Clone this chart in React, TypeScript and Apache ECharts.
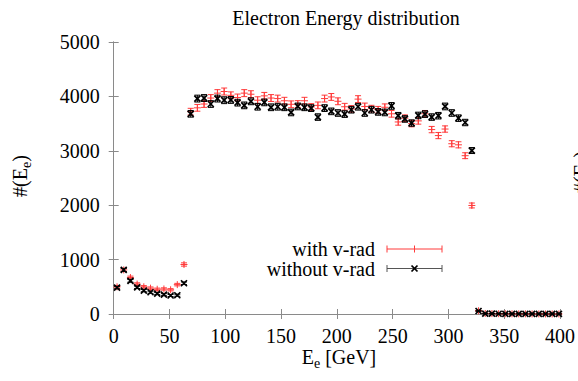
import React, { useEffect, useRef } from "react";
import * as echarts from "echarts";

// Bin centres (GeV)
const energies = [
  3, 9, 15, 21, 27, 33, 39, 45, 51, 57, 63, 69, 75, 81, 87, 93, 99, 105, 111, 117,
  123, 129, 135, 141, 147, 153, 159, 165, 171, 177, 183, 189, 195, 201, 207, 213,
  219, 225, 231, 237, 243, 249, 255, 261, 267, 273, 279, 285, 291, 297, 303, 309,
  315, 321, 327, 333, 339, 345, 351, 357, 363, 369, 375, 381, 387, 393, 399,
];

// with v-rad (red)
const withVrad = [
  500, 810, 670, 550, 500, 475, 455, 460, 445, 540, 910,
  3720, 3790, 3860, 3970, 4060, 4090, 4020, 3980, 4060, 4040, 3930, 4010, 3970, 3960,
  3920, 3855, 3860, 3920, 3805, 3835, 3960, 3990, 3910, 3810, 3770, 3950, 3815, 3775,
  3755, 3800, 3680, 3530, 3600, 3500, 3550, 3680, 3390, 3280, 3400, 3130, 3110, 2910,
  1995, 60,
  10, 8, 6, 5, 4, 3, 3, 2, 2, 1, 1, 1,
];
const withVradErr = [
  22, 28, 26, 23, 22, 22, 21, 21, 21, 23, 30,
  61, 62, 62, 63, 64, 64, 63, 63, 64, 64, 63, 63, 63, 63,
  63, 62, 62, 63, 62, 62, 63, 63, 63, 62, 61, 63, 62, 61,
  61, 62, 61, 59, 60, 59, 60, 61, 58, 57, 58, 56, 56, 54,
  45, 8,
  3, 3, 2, 2, 2, 2, 2, 1, 1, 1, 1, 1,
];

// without v-rad (black)
const withoutVrad = [
  485, 810, 610, 490, 430, 400, 375, 355, 340, 345, 565,
  3680, 3960, 3970, 3860, 3960, 3930, 3935, 3885, 3835, 3910, 3810, 3890, 3800, 3810,
  3800, 3705, 3815, 3800, 3785, 3620, 3785, 3725, 3695, 3675, 3755, 3810, 3695, 3755,
  3715, 3705, 3825, 3645, 3585, 3510, 3650, 3675, 3620, 3645, 3815, 3695, 3600, 3520,
  3005, 55,
  8, 6, 5, 4, 3, 3, 2, 2, 1, 1, 1, 1,
];
const withoutVradErr = [
  22, 28, 25, 22, 21, 20, 19, 19, 18, 19, 24,
  61, 63, 63, 62, 63, 63, 63, 62, 62, 63, 62, 62, 62, 62,
  62, 61, 62, 62, 62, 60, 62, 61, 61, 61, 61, 62, 61, 61,
  61, 61, 62, 60, 60, 59, 60, 61, 60, 60, 62, 61, 60, 59,
  55, 7,
  3, 2, 2, 2, 2, 2, 1, 1, 1, 1, 1, 1,
];

const xTicks = [0, 50, 100, 150, 200, 250, 300, 350, 400];
const yTicks = [0, 1000, 2000, 3000, 4000, 5000];

const FONT = "Liberation Serif, Times New Roman, serif";
const RED = "#ff3a3a";
const BLACK = "#000000";
const AXIS = "#8a8a8a";

function fontStr(size: number) {
  return `normal normal ${size}px ${FONT}`;
}

function measure(text: string, size: number): number {
  const c = document.createElement("canvas").getContext("2d");
  if (!c) return text.length * size * 0.5;
  c.font = `${size}px ${FONT}`;
  return c.measureText(text).width;
}

function subText(parts: { t: string; sub?: boolean }[], size: number, subSize: number) {
  const widths = parts.map((p) => measure(p.t, p.sub ? subSize : size));
  const total = widths.reduce((a, b) => a + b, 0);
  let x = -total / 2;
  const children: any[] = [];
  parts.forEach((p, i) => {
    children.push({
      type: "text",
      x,
      y: p.sub ? 6 : 0,
      style: {
        text: p.t,
        font: fontStr(p.sub ? subSize : size),
        fill: "#000",
        textAlign: "left",
        textVerticalAlign: "middle",
      },
    });
    x += widths[i];
  });
  return children;
}

function makeErrSeries(name: string, xs: number[], ys: number[], es: number[], color: string, marker: "plus" | "cross") {
  return {
    type: "custom",
    name,
    clip: false,
    data: xs.map((x, i) => [x, ys[i], es[i]]),
    encode: { x: 0, y: 1 },
    renderItem: (_params: any, api: any) => {
      const x = api.value(0);
      const y = api.value(1);
      const e = api.value(2);
      const p = api.coord([x, y]);
      const hi = api.coord([x, y + e]);
      const lo = api.coord([x, Math.max(0, y - e)]);
      const cw = 3;
      const st = { stroke: color, lineWidth: 1 };
      const children: any[] = [
        { type: "line", shape: { x1: p[0], y1: hi[1], x2: p[0], y2: lo[1] }, style: st },
        { type: "line", shape: { x1: p[0] - cw, y1: hi[1], x2: p[0] + cw, y2: hi[1] }, style: st },
        { type: "line", shape: { x1: p[0] - cw, y1: lo[1], x2: p[0] + cw, y2: lo[1] }, style: st },
      ];
      if (marker === "plus") {
        children.push(
          { type: "line", shape: { x1: p[0] - 3.5, y1: p[1], x2: p[0] + 3.5, y2: p[1] }, style: st },
          { type: "line", shape: { x1: p[0], y1: p[1] - 3.5, x2: p[0], y2: p[1] + 3.5 }, style: st }
        );
      } else {
        const s = 3;
        const sx = { stroke: color, lineWidth: 1.7 };
        children.push(
          { type: "line", shape: { x1: p[0] - s, y1: p[1] - s, x2: p[0] + s, y2: p[1] + s }, style: sx },
          { type: "line", shape: { x1: p[0] - s, y1: p[1] + s, x2: p[0] + s, y2: p[1] - s }, style: sx }
        );
      }
      return { type: "group", children };
    },
    z: marker === "cross" ? 3 : 2,
  };
}

function legendEntry(label: string, y: number, color: string, marker: "plus" | "cross") {
  const x1 = 387;
  const x2 = 442;
  const xm = (x1 + x2) / 2;
  const lineSt = marker === "cross" ? { stroke: "#555", lineWidth: 1 } : { stroke: color, lineWidth: 1 };
  const children: any[] = [
    {
      type: "text",
      x: 375,
      y,
      style: {
        text: label,
        font: fontStr(20),
        fill: "#000",
        textAlign: "right",
        textVerticalAlign: "middle",
      },
    },
    { type: "line", shape: { x1, y1: y, x2, y2: y }, style: lineSt },
    { type: "line", shape: { x1, y1: y - 3.5, x2: x1, y2: y + 3.5 }, style: lineSt },
    { type: "line", shape: { x1: x2, y1: y - 3.5, x2, y2: y + 3.5 }, style: lineSt },
  ];
  if (marker === "plus") {
    children.push({ type: "line", shape: { x1: xm, y1: y - 3.5, x2: xm, y2: y + 3.5 }, style: lineSt });
  } else {
    const s = 3;
    const sx = { stroke: color, lineWidth: 1.7 };
    children.push(
      { type: "line", shape: { x1: xm - s, y1: y - s, x2: xm + s, y2: y + s }, style: sx },
      { type: "line", shape: { x1: xm - s, y1: y + s, x2: xm + s, y2: y - s }, style: sx }
    );
  }
  return { type: "group", children };
}

export default function App() {
  const ref = useRef<HTMLDivElement>(null);
  useEffect(() => {
    if (!ref.current) return;
    const chart = echarts.init(ref.current, undefined, { renderer: "svg" });
    const axisCommon = {
      type: "value" as const,
      axisLine: { show: true, lineStyle: { color: AXIS, width: 1 } },
      axisTick: { show: true, inside: true, length: 5, lineStyle: { color: AXIS } },
      splitLine: { show: false },
    };
    const labelStyle = {
      fontFamily: FONT,
      fontSize: 20,
      fontWeight: "normal" as const,
      fontStyle: "normal" as const,
      color: "#000",
      formatter: (v: number) => String(v),
    };
    const yTitle = subText([{ t: "#(E" }, { t: "e", sub: true }, { t: ")" }], 20, 14);
    const xTitle = subText([{ t: "E" }, { t: "e", sub: true }, { t: " [GeV]" }], 20, 14);
    chart.setOption({
      animation: false,
      backgroundColor: "#fff",
      textStyle: { fontFamily: FONT },
      title: {
        text: "Electron Energy distribution",
        left: 341,
        top: 3,
        textAlign: "center",
        textStyle: { fontFamily: FONT, fontSize: 20, fontWeight: "normal", color: "#000" },
      },
      grid: { left: 113.7, right: 10, top: 42, bottom: 67, containLabel: false },
      xAxis: [
        {
          ...axisCommon,
          position: "bottom",
          min: xTicks[0],
          max: xTicks[xTicks.length - 1],
          interval: xTicks[1] - xTicks[0],
          axisLabel: { show: true, ...labelStyle, margin: 12, showMaxLabel: true, showMinLabel: true },
        },
        {
          ...axisCommon,
          position: "top",
          min: xTicks[0],
          max: xTicks[xTicks.length - 1],
          interval: xTicks[1] - xTicks[0],
          axisLabel: { show: false },
        },
      ],
      yAxis: [
        {
          ...axisCommon,
          position: "left",
          min: yTicks[0],
          max: yTicks[yTicks.length - 1],
          interval: yTicks[1] - yTicks[0],
          axisLabel: { show: true, ...labelStyle, margin: 14 },
        },
        {
          ...axisCommon,
          position: "right",
          min: yTicks[0],
          max: yTicks[yTicks.length - 1],
          interval: yTicks[1] - yTicks[0],
          axisLabel: { show: false },
        },
      ],
      graphic: [
        { type: "group", x: 20, y: 176, rotation: Math.PI / 2, children: yTitle },
        { type: "group", x: 581, y: 172, rotation: Math.PI / 2, children: yTitle },
        { type: "group", x: 339, y: 357, children: xTitle },
        legendEntry("with v-rad", 249, RED, "plus"),
        legendEntry("without v-rad", 268.5, BLACK, "cross"),
      ],
      series: [
        makeErrSeries("with v-rad", energies, withVrad, withVradErr, RED, "plus"),
        makeErrSeries("without v-rad", energies, withoutVrad, withoutVradErr, BLACK, "cross"),
      ],
    });
    return () => chart.dispose();
  }, []);
  return <div ref={ref} style={{ width: 578, height: 381, position: "absolute", left: 0, top: 0 }} />;
}
